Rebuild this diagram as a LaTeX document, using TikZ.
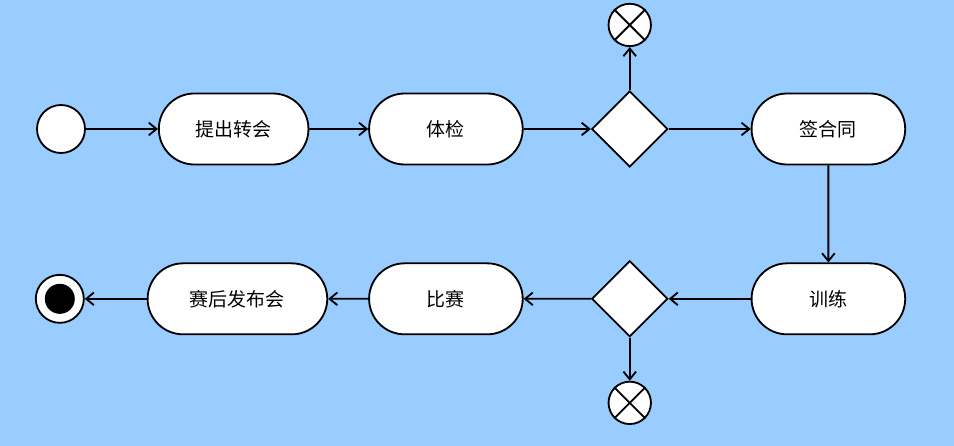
\documentclass[tikz,border=0pt]{standalone}
\usepackage{fontspec}
\newfontfamily\cjkfont{Noto Sans CJK SC}
\usetikzlibrary{arrows.meta,positioning,shapes.geometric,shapes.misc}
\definecolor{skyblue}{RGB}{153,204,255}

\begin{document}
\begin{tikzpicture}[
      line width=1.3pt,
      node distance=1.6cm,
      state/.style={draw, fill=white, rounded rectangle,
                    minimum width=4.075cm, minimum height=1.775cm,
                    font=\cjkfont\fontsize{13.5}{16}\selectfont},
      choice/.style={draw, fill=white, diamond, minimum size=1.9cm, inner sep=0pt},
      pseudo/.style={draw, fill=white, circle, minimum size=1.2cm, inner sep=0pt},
      cancel/.style={draw, fill=white, circle, minimum size=1.06cm, inner sep=0pt},
      arrow/.style={-{Straight Barb[length=5.5pt,width=9pt]}},
    ]
    \fill[skyblue] (0,0) rectangle (23.85,-11.15);
    \useasboundingbox (0,0) rectangle (23.85,-11.15);

    % top row
    \node[pseudo] (s) at (1.525,-3.225) {};
    \node[state, right=1.8cm of s, minimum width=3.975cm] (a) {提出转会};
    \node[state, right=1.47cm of a] (b) {体检};
    \node[choice, right=1.68cm of b] (c1) {};
    \node[cancel, above=1.075cm of c1] (x1) {};
    \node[state, right=2.05cm of c1] (d) {签合同};

    % bottom row
    \node[state, below=2.425cm of d] (f) {训练};
    \node[choice, left=2.05cm of f] (c2) {};
    \node[cancel, below=1.075cm of c2] (x2) {};
    \node[state, left=1.68cm of c2] (g) {比赛};
    \node[state, left=1.0cm of g, minimum width=4.725cm] (h) {赛后发布会};
    \node[pseudo, left=1.55cm of h] (e) {};
    \node[circle, fill=black, minimum size=0.75cm, inner sep=0pt] (edot) at (e) {};

    \draw (x1.north east) -- (x1.south west) (x1.north west) -- (x1.south east);
    \draw (x2.north east) -- (x2.south west) (x2.north west) -- (x2.south east);

    \draw[arrow] (s) -- (a); \draw[arrow] (a) -- (b);
    \draw[arrow] (b) -- (c1); \draw[arrow] (c1) -- (x1);
    \draw[arrow] (c1) -- (d); \draw[arrow] (d) -- (f);
    \draw[arrow] (f) -- (c2); \draw[arrow] (c2) -- (x2);
    \draw[arrow] (c2) -- (g); \draw[arrow] (g) -- (h);
    \draw[arrow] (h) -- (e);
  \end{tikzpicture}
\end{document}
